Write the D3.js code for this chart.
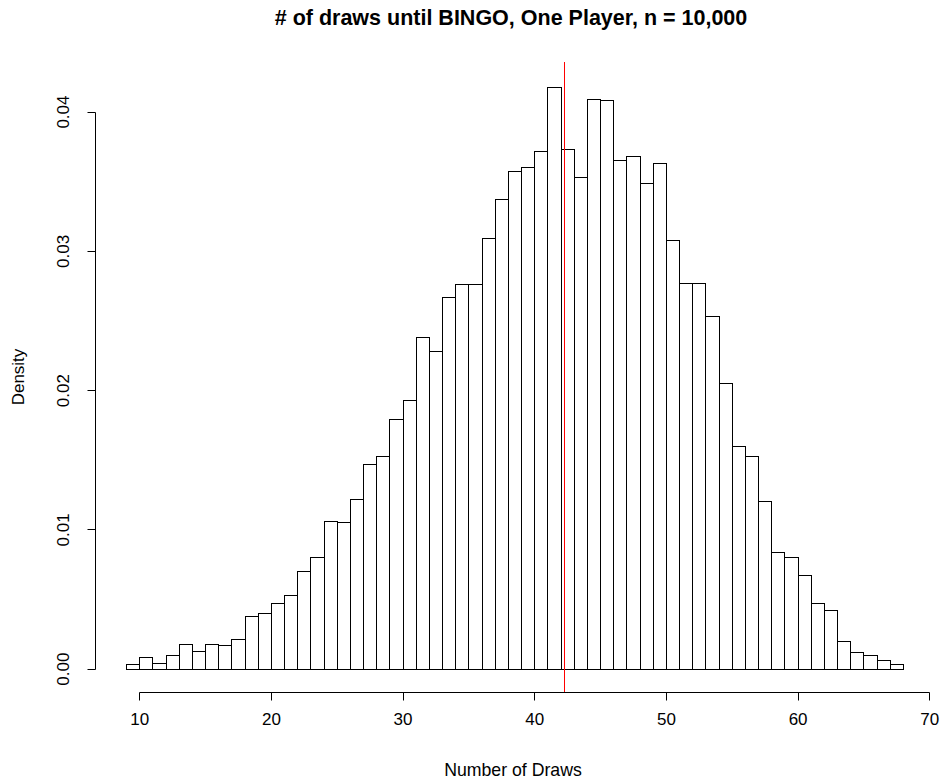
<!DOCTYPE html>
<html>
<head>
<meta charset="utf-8">
<script src="https://cdn.jsdelivr.net/npm/d3@7"></script>
<style>
  body { margin: 0; background: #fff; }
  text { font-family: "Liberation Sans", Arial, sans-serif; fill: #000; }
</style>
</head>
<body>
<svg id="chart" width="941" height="780"></svg>
<script>
// bin left edges (width 1) and density per bin
var binStart = d3.range(9, 68);
var density = [
  0.0003, 0.0008, 0.0004, 0.0010, 0.0018, 0.0013, 0.0018, 0.0017, 0.0021, 0.0038,
  0.0040, 0.0047, 0.0053, 0.0070, 0.0080, 0.0106, 0.0105, 0.0122, 0.0147, 0.0153,
  0.0179, 0.0193, 0.0238, 0.0228, 0.0267, 0.0276, 0.0276, 0.0309, 0.0337, 0.0357,
  0.0360, 0.0372, 0.0418, 0.0373, 0.0353, 0.0409, 0.0408, 0.0365, 0.0368, 0.0349,
  0.0363, 0.0308, 0.0277, 0.0277, 0.0253, 0.0205, 0.0160, 0.0153, 0.0120, 0.0084,
  0.0080, 0.0067, 0.0047, 0.0042, 0.0020, 0.0012, 0.0010, 0.0006, 0.0003
];
var meanDraws = 42.25;
var xTicks = [10, 20, 30, 40, 50, 60, 70];
var yTicks = [0, 0.01, 0.02, 0.03, 0.04];

var svg = d3.select("#chart");

// plot region like R: xlim 9..68 and ylim 0..max, both padded 4%
var x = d3.scaleLinear().domain([6.64, 70.36]).range([95, 934]);
var y = d3.scaleLinear().domain([-0.00168, 0.04356]).range([692, 62]);

var bins = binStart.map(function(s, i) { return {x0: s, x1: s + 1, d: density[i]}; });

svg.append("g").selectAll("rect")
    .data(bins)
  .enter().append("rect")
    .attr("x", function(d) { return Math.round(x(d.x0)) + 0.5; })
    .attr("y", function(d) { return Math.round(y(d.d)) + 0.5; })
    .attr("width", function(d) { return Math.round(x(d.x1)) - Math.round(x(d.x0)); })
    .attr("height", function(d) { return Math.round(y(0)) - Math.round(y(d.d)); })
    .attr("fill", "#fff")
    .attr("stroke", "#000")
    .attr("stroke-width", 1);

// x axis
var gx = svg.append("g").attr("transform", "translate(0.5," + (Math.round(y.range()[0]) + 0.5) + ")");
gx.append("line")
    .attr("x1", Math.round(x(10))).attr("x2", Math.round(x(70)))
    .attr("stroke", "#000");
gx.selectAll(".tick").data(xTicks).enter().append("line")
    .attr("x1", function(d) { return Math.round(x(d)); })
    .attr("x2", function(d) { return Math.round(x(d)); })
    .attr("y1", 0).attr("y2", 8)
    .attr("stroke", "#000");
gx.selectAll("text").data(xTicks).enter().append("text")
    .attr("x", function(d) { return x(d); })
    .attr("y", 32)
    .attr("text-anchor", "middle")
    .style("font-size", "17px")
    .text(function(d) { return d; });

// y axis
var gy = svg.append("g").attr("transform", "translate(" + (Math.round(x.range()[0]) + 0.5) + ",0.5)");
gy.append("line")
    .attr("y1", Math.round(y(0))).attr("y2", Math.round(y(0.04)))
    .attr("stroke", "#000");
gy.selectAll(".tick").data(yTicks).enter().append("line")
    .attr("y1", function(d) { return Math.round(y(d)); })
    .attr("y2", function(d) { return Math.round(y(d)); })
    .attr("x1", 0).attr("x2", -8)
    .attr("stroke", "#000");
gy.selectAll("text").data(yTicks).enter().append("text")
    .attr("transform", function(d) { return "translate(-27," + y(d) + ") rotate(-90)"; })
    .attr("text-anchor", "middle")
    .style("font-size", "17px")
    .text(function(d) { return d3.format(".2f")(d); });

// mean line
var mx = Math.round(x(meanDraws)) + 0.5;
svg.append("line")
    .attr("x1", mx).attr("x2", mx)
    .attr("y1", 62).attr("y2", 692)
    .attr("stroke", "#ff0000")
    .attr("stroke-width", 1);

// titles
svg.append("text")
    .attr("x", 511).attr("y", 25)
    .attr("text-anchor", "middle")
    .style("font-size", "21.5px")
    .style("font-weight", "bold")
    .text("# of draws until BINGO, One Player, n = 10,000");

svg.append("text")
    .attr("x", 513).attr("y", 776)
    .attr("text-anchor", "middle")
    .style("font-size", "17.7px")
    .text("Number of Draws");

svg.append("text")
    .attr("transform", "translate(24,377) rotate(-90)")
    .attr("text-anchor", "middle")
    .style("font-size", "17px")
    .text("Density");
</script>
</body>
</html>
